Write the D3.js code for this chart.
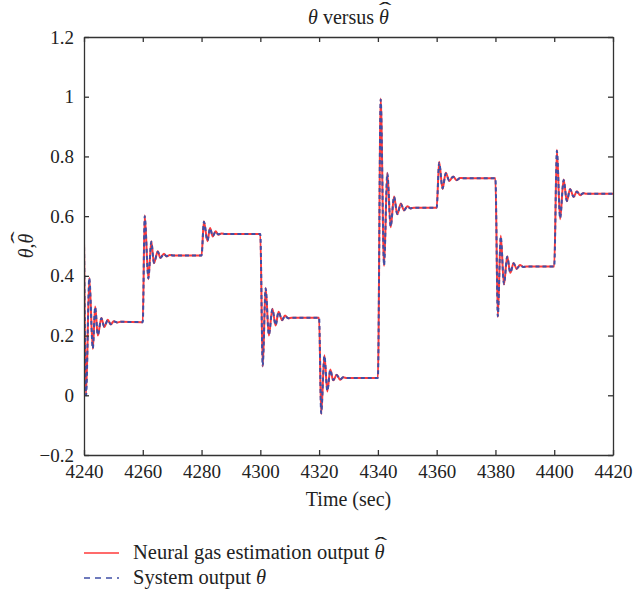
<!DOCTYPE html>
<html>
<head>
<meta charset="utf-8">
<script src="https://cdn.jsdelivr.net/npm/d3@7"></script>
<style>
  html, body { margin: 0; padding: 0; background: #fff; }
  svg { display: block; font-family: "Liberation Serif", "Times New Roman", serif; }
</style>
</head>
<body>
<svg id="chart" width="634" height="593"></svg>
<script>
// Sample times (sec) at the turning points of the response
const times = [
  4240.0, 4240.7, 4241.8, 4243.0, 4243.8, 4244.7, 4245.9, 4246.9, 4248.1, 4249.1, 4250.1, 4251.3, 4252.5,
  4260.0, 4260.65, 4261.9, 4262.9, 4263.8, 4265.1, 4266.0, 4267.2, 4268.1, 4269.2, 4270.5,
  4280.0, 4280.8, 4282.0, 4282.9, 4283.8, 4284.8, 4285.7, 4286.8, 4288.0,
  4300.0, 4300.8, 4301.8, 4302.9, 4304.1, 4305.2, 4306.2, 4307.4, 4308.4, 4309.5, 4310.6,
  4320.0, 4320.7, 4321.8, 4322.8, 4323.8, 4324.8, 4326.0, 4327.1, 4328.2, 4329.5,
  4340.0, 4340.95, 4342.1, 4343.2, 4344.35, 4345.5, 4346.6, 4347.8, 4348.9, 4350.0, 4351.1, 4352.3,
  4360.0, 4360.85, 4362.0, 4363.1, 4364.3, 4365.6, 4366.8, 4368.0, 4369.2,
  4380.0, 4380.8, 4381.8, 4382.9, 4384.0, 4385.05, 4386.2, 4387.2, 4388.35, 4389.5, 4390.6,
  4400.0, 4400.9, 4402.0, 4403.2, 4404.3, 4405.4, 4406.6, 4407.7, 4408.8, 4409.9, 4411.0,
  4420.0
];

// System output θ
const systemOutput = [
  0.520, 0.000, 0.392, 0.157, 0.295, 0.202, 0.258, 0.230, 0.252, 0.238, 0.248, 0.244, 0.246,
  0.245, 0.600, 0.392, 0.514, 0.444, 0.481, 0.461, 0.473, 0.466, 0.470, 0.468,
  0.468, 0.581, 0.518, 0.559, 0.533, 0.548, 0.539, 0.542, 0.540,
  0.540, 0.099, 0.358, 0.202, 0.288, 0.235, 0.279, 0.252, 0.266, 0.258, 0.260,
  0.260, -0.060, 0.132, 0.015, 0.085, 0.051, 0.068, 0.053, 0.060, 0.058,
  0.058, 0.991, 0.436, 0.743, 0.565, 0.665, 0.607, 0.641, 0.620, 0.632, 0.626, 0.628,
  0.628, 0.779, 0.693, 0.743, 0.719, 0.732, 0.721, 0.728, 0.727,
  0.727, 0.265, 0.531, 0.373, 0.464, 0.411, 0.442, 0.424, 0.435, 0.430, 0.431,
  0.431, 0.819, 0.593, 0.721, 0.651, 0.690, 0.665, 0.682, 0.671, 0.677, 0.675,
  0.675
];

// Neural gas estimation output θ̂
const estimateOutput = [
  0.522, 0.002, 0.394, 0.155, 0.297, 0.200, 0.259, 0.229, 0.253, 0.237, 0.248, 0.244, 0.246,
  0.245, 0.603, 0.389, 0.516, 0.442, 0.482, 0.460, 0.474, 0.465, 0.470, 0.468,
  0.468, 0.583, 0.516, 0.560, 0.532, 0.549, 0.538, 0.542, 0.540,
  0.540, 0.096, 0.360, 0.200, 0.290, 0.234, 0.280, 0.251, 0.267, 0.258, 0.260,
  0.260, -0.063, 0.134, 0.013, 0.086, 0.050, 0.069, 0.052, 0.060, 0.058,
  0.058, 0.994, 0.433, 0.745, 0.563, 0.666, 0.606, 0.642, 0.619, 0.633, 0.626, 0.628,
  0.628, 0.782, 0.691, 0.745, 0.718, 0.733, 0.720, 0.728, 0.727,
  0.727, 0.262, 0.534, 0.371, 0.466, 0.410, 0.443, 0.423, 0.436, 0.430, 0.431,
  0.431, 0.822, 0.590, 0.723, 0.650, 0.691, 0.664, 0.683, 0.670, 0.677, 0.675,
  0.675
];

const xTicks = [4240, 4260, 4280, 4300, 4320, 4340, 4360, 4380, 4400, 4420];
const yTicks = [-0.2, 0, 0.2, 0.4, 0.6, 0.8, 1, 1.2];
const yTickLabels = ["\u22120.2", "0", "0.2", "0.4", "0.6", "0.8", "1", "1.2"];

const svg = d3.select("#chart");
const plotLeft = 84, plotRight = 613, plotTop = 37, plotBottom = 455;

const x = d3.scaleLinear().domain([4240, 4420]).range([plotLeft, plotRight]);
const y = d3.scaleLinear().domain([-0.2, 1.2]).range([plotBottom, plotTop]);

const axisColor = "#333";
const textColor = "#222";
const tickLen = 5;

// clip region for the traces
svg.append("defs").append("clipPath").attr("id", "plot-clip")
  .append("rect").attr("x", plotLeft).attr("y", plotTop - 2)
  .attr("width", plotRight - plotLeft).attr("height", plotBottom - plotTop + 4);

const seriesSys = times.map((t, i) => [t, systemOutput[i]]);
const seriesEst = times.map((t, i) => [t, estimateOutput[i]]);

const line = d3.line()
  .x(d => x(d[0]))
  .y(d => y(d[1]))
  .curve(d3.curveMonotoneX);

const traces = svg.append("g").attr("clip-path", "url(#plot-clip)");

const redColor = "#ff3a3a";
const blueColor = "#3f4fa6";

traces.append("path")
  .datum(seriesEst)
  .attr("d", line)
  .attr("fill", "none")
  .attr("stroke", redColor)
  .attr("stroke-width", 2)
  .attr("stroke-linejoin", "round");

traces.append("path")
  .datum(seriesSys)
  .attr("d", line)
  .attr("fill", "none")
  .attr("stroke", blueColor)
  .attr("stroke-width", 2)
  .attr("stroke-dasharray", "4,3")
  .attr("stroke-linejoin", "round");

// axes: bottom/left with labels, top/right ticks only, all ticks pointing inward
const axisFont = 19;

const gBottom = svg.append("g").attr("transform", `translate(0,${plotBottom})`)
  .call(d3.axisBottom(x).tickValues(xTicks).tickSizeInner(-tickLen).tickSizeOuter(0)
    .tickPadding(10).tickFormat(d3.format("d")));
const gTop = svg.append("g").attr("transform", `translate(0,${plotTop})`)
  .call(d3.axisTop(x).tickValues(xTicks).tickSizeInner(-tickLen).tickSizeOuter(0).tickFormat(""));
const gLeft = svg.append("g").attr("transform", `translate(${plotLeft},0)`)
  .call(d3.axisLeft(y).tickValues(yTicks).tickSizeInner(-tickLen).tickSizeOuter(0)
    .tickPadding(10).tickFormat((d, i) => yTickLabels[i]));
const gRight = svg.append("g").attr("transform", `translate(${plotRight},0)`)
  .call(d3.axisRight(y).tickValues(yTicks).tickSizeInner(-tickLen).tickSizeOuter(0).tickFormat(""));

[gBottom, gTop, gLeft, gRight].forEach(g => {
  g.select(".domain").attr("stroke", axisColor).attr("stroke-width", 1.3);
  g.selectAll(".tick line").attr("stroke", axisColor).attr("stroke-width", 1.3);
  g.selectAll(".tick text")
    .attr("fill", textColor)
    .style("font-family", "'Liberation Serif', serif")
    .style("font-size", axisFont + "px");
});

// Writes a label made of pieces; pieces flagged `hat` get a wide circumflex over them.
function richLabel(parent, px, py, size, anchor, pieces) {
  const t = parent.append("text")
    .attr("x", px).attr("y", py)
    .attr("text-anchor", anchor)
    .attr("fill", textColor)
    .style("font-size", size + "px");
  pieces.forEach(p => {
    const span = t.append("tspan").text(p.text);
    if (p.italic) span.style("font-style", "italic");
    if (p.hat) {
      const ext = span.node().getExtentOfChar(0);
      const cx = ext.x + ext.width / 2 + size * 0.06;
      parent.append("text")
        .attr("transform", `translate(${cx},${py - size * 0.36}) scale(1.9,1)`)
        .attr("text-anchor", "middle")
        .attr("fill", textColor)
        .style("font-size", size + "px")
        .text("\u02C6");
    }
  });
  return t;
}

// Title
richLabel(svg, (plotLeft + plotRight) / 2, 24, 20, "middle", [
  { text: "\u03B8", italic: true },
  { text: " versus " },
  { text: "\u03B8", italic: true, hat: true }
]);

// X label
svg.append("text")
  .attr("x", (plotLeft + plotRight) / 2).attr("y", 506)
  .attr("text-anchor", "middle")
  .attr("fill", textColor)
  .style("font-size", "20px")
  .text("Time (sec)");

// Y label (rotated)
const yLabelG = svg.append("g")
  .attr("transform", `translate(33,${(plotTop + plotBottom) / 2}) rotate(-90)`);
richLabel(yLabelG, 0, 0, 20, "middle", [
  { text: "\u03B8", italic: true },
  { text: "," },
  { text: "\u03B8", italic: true, hat: true }
]);

// Legend
const legend = svg.append("g");
const legendItems = [
  { color: redColor, dash: null, label: "Neural gas estimation output ", hat: true, y: 553 },
  { color: blueColor, dash: "6,5", label: "System output ", hat: false, y: 578 }
];
legendItems.forEach(item => {
  legend.append("line")
    .attr("x1", 84).attr("x2", 119)
    .attr("y1", item.y).attr("y2", item.y)
    .attr("stroke", item.color)
    .attr("stroke-width", 1.3)
    .attr("stroke-dasharray", item.dash);
  richLabel(legend, 133, item.y + 6, 20.5, "start", [
    { text: item.label },
    { text: "\u03B8", italic: true, hat: item.hat }
  ]);
});
</script>
</body>
</html>
